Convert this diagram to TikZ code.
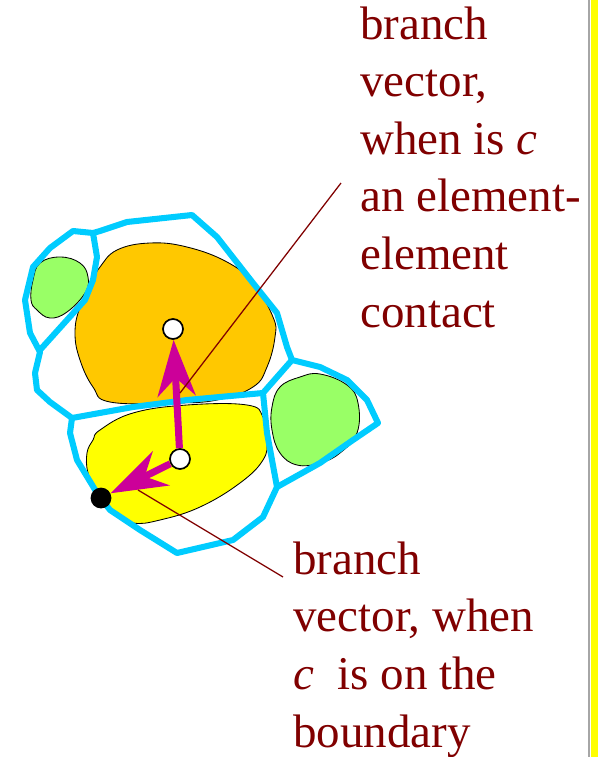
\documentclass[tikz,border=0pt]{standalone}
\usepackage{fontspec}
\setmainfont{Liberation Serif}
\usepackage{tikz}
\usetikzlibrary{arrows.meta}
\definecolor{cellcyan}{RGB}{0,204,255}
\definecolor{grainorange}{RGB}{255,200,0}
\definecolor{grainyellow}{RGB}{255,255,0}
\definecolor{graingreen}{RGB}{153,255,102}
\definecolor{vecmagenta}{RGB}{204,0,153}
\definecolor{labelred}{RGB}{128,0,0}

\begin{document}
\begin{tikzpicture}[
    x=0.025cm, y=-0.025cm,
    wall/.style={cellcyan, line width=4.3pt, line join=round, line cap=round},
    grain/.style={draw=black, line width=0.6pt},
    centre/.style={circle, draw=black, line width=1.2pt, fill=white,
                   minimum size=0.5cm, inner sep=0pt},
    contact/.style={circle, fill=black, minimum size=0.52cm, inner sep=0pt},
    branch/.style={vecmagenta, line width=5pt,
                   -{Stealth[length=40pt, width=27pt, inset=13pt]}},
    leader/.style={labelred, line width=0.9pt},
    note/.style={labelred, font=\fontsize{33.4}{40.9}\selectfont,
                 align=left, anchor=base west, inner sep=0pt}
  ]
  \useasboundingbox (0,0) rectangle (598,757);

  %% Page edge
  \fill[grainyellow] (590.5,0) rectangle (598,757);
  \draw[gray!70, line width=1pt] (589,0) -- (589,757);

  %% Grains
  \draw[grain, fill=grainorange] plot[smooth cycle, tension=0.7] coordinates {
    (100,267) (117,250) (150,243) (187,247) (227,262) (253,283) (273,317)
    (275,337) (267,367) (253,387) (217,400) (173,403) (110,402) (93,387)
    (80,360) (75,333) (80,307) (93,280)};
  \draw[grain, fill=grainyellow] plot[smooth cycle, tension=0.7] coordinates {
    (100,430) (133,413) (187,405) (247,405) (263,417) (267,440) (263,460)
    (240,483) (200,507) (160,520) (133,523) (113,513) (97,493) (88,473)
    (87,453) (93,440)};
  \draw[grain, fill=graingreen] plot[smooth cycle, tension=0.7] coordinates {
    (40,263) (60,257) (80,263) (88,277) (85,293) (67,312) (50,318)
    (37,310) (31,300) (33,280)};
  \draw[grain, fill=graingreen] plot[smooth cycle, tension=0.7] coordinates {
    (280,387) (300,377) (320,374) (347,385) (358,403) (357,433) (340,453)
    (320,463) (297,465) (280,453) (272,430) (272,407)};

  %% Cell walls
  \draw[wall] (73,231) -- (93,233) -- (100,231) -- (127,222) -- (192,215)
    -- (217,237) -- (253,283) -- (277,313) -- (287,347) -- (292,360)
    -- (320,367) -- (347,380) -- (367,400) -- (378,423) -- (353,440)
    -- (320,463) -- (277,487) -- (263,517) -- (233,540) -- (177,553)
    -- (140,530) -- (110,510) -- (97,493) -- (77,460) -- (70,433)
    -- (72,418) -- (50,402) -- (37,390) -- (35,373) -- (40,352)
    -- (30,333) -- (25,300) -- (33,267) -- (50,248) -- cycle;
  \draw[wall] (93,233) -- (97,257) -- (93,280) -- (85,300) -- (40,350);
  \draw[wall] (72,418) -- (133,407) -- (187,400) -- (263,393) -- (292,360);
  \draw[wall] (263,393) -- (267,433) -- (277,487);

  %% Centres and boundary point
  \node[centre] (up) at (173,329) {};
  \node[centre] (lo) at (180,459) {};
  \node[contact] (bpt) at (101,498) {};

  %% Branch vectors
  \draw[branch] (lo) -- (up);
  \draw[branch] (lo) -- (bpt);

  %% Leaders
  \coordinate (topfoot) at (341,183);
  \coordinate (shaftpt) at (180,393);
  \coordinate (botfoot) at (283,577);
  \coordinate (headpt) at (138,490);
  \draw[leader] (topfoot) -- (shaftpt);
  \draw[leader] (headpt) -- (botfoot);

  %% Labels
  \node[note] (topnote) at (360,327)
    {branch\\vector,\\when is \textit{c}\\an element-\\element\\contact};
  \node[note] (botnote) at (293,747)
    {branch\\vector, when\\\textit{c}\ \ is on the\\boundary};
\end{tikzpicture}
\end{document}
